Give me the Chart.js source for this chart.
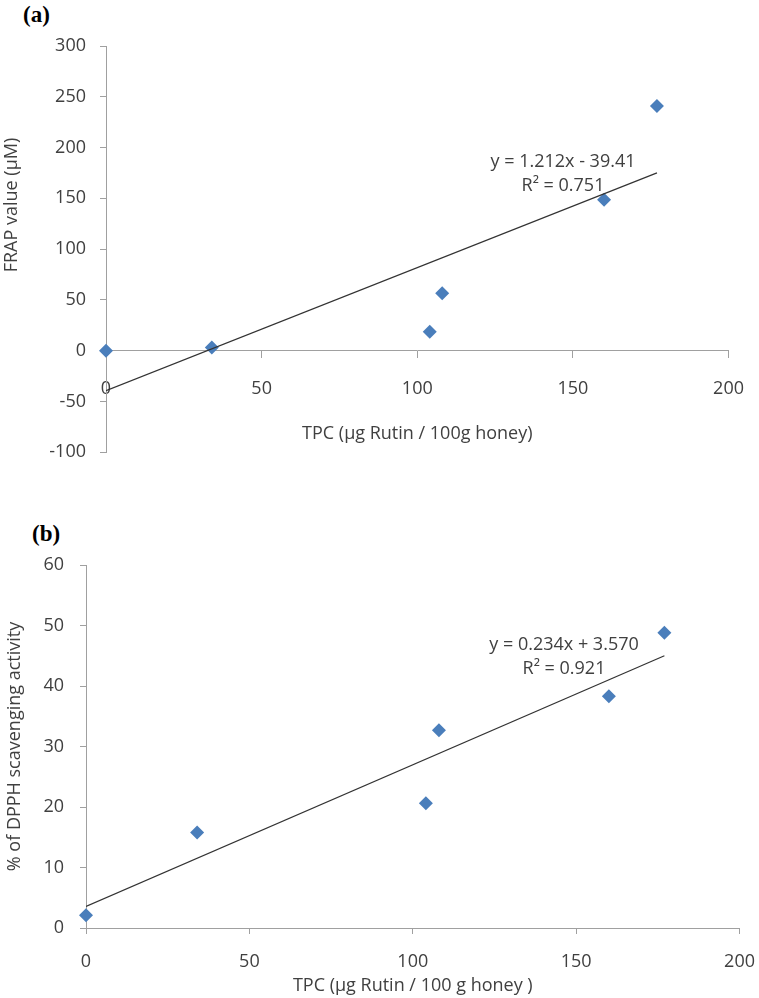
<!DOCTYPE html>
<html>
<head>
<meta charset="utf-8">
<script src="https://cdn.jsdelivr.net/npm/chart.js@4/dist/chart.umd.min.js"></script>
<style>
  html, body { margin: 0; background: #fff; overflow: hidden; }
  #page { position: relative; width: 759px; height: 998px; background: #fff; overflow: hidden; }
  .box { position: absolute; left: 0; }
  .panel { position: absolute; font: bold 23px "Liberation Serif", serif; color: #000; line-height: 23px; }
</style>
</head>
<body>
<div id="page">
  <div class="panel" style="left:23px; top:3px;">(a)</div>
  <div class="panel" style="left:32px; top:522px;">(b)</div>
  <!-- boxes are a bit wider than the page: chart.js adds tick padding on the right -->
  <div class="box" style="top:0; width:764px; height:477px;"><canvas id="chartA"></canvas></div>
  <div class="box" style="top:480px; width:772px; height:518px;"><canvas id="chartB"></canvas></div>
</div>
<script>
  // TPC values (µg Rutin / 100 g honey), same samples in both panels
  const tpc = [0, 34, 104, 108, 160, 177];
  // panel (a) FRAP value (µM)
  const frap = [0, 3, 18.5, 56.5, 148.5, 241];
  // panel (b) % DPPH scavenging
  const dpph = [2.1, 15.8, 20.6, 32.7, 38.3, 48.8];

  // trendline coefficients [slope, intercept] and their labels
  const fitA = [1.212, -39.41];
  const fitB = [0.234, 3.570];
  const eqA = ['y = 1.212x - 39.41', 'R\u00B2 = 0.751'];
  const eqB = ['y = 0.234x + 3.570', 'R\u00B2 = 0.921'];

  // axis ranges / ticks [min, max, step]
  const xTicks = [0, 200, 50];
  const yTicksA = [-100, 300, 50];
  const yTicksB = [0, 60, 10];

  Chart.defaults.font.family = "'Open Sans', sans-serif";
  Chart.defaults.font.size = 18;
  Chart.defaults.color = '#404040';

  const blue = '#4a7ebb';
  const axisGrey = '#a0a0a0';

  function points(xs, ys) {
    return xs.map((x, i) => ({ x: x, y: ys[i] }));
  }

  function trend(fit, xs) {
    const x1 = Math.max.apply(null, xs);
    return [{ x: 0, y: fit[1] }, { x: x1, y: fit[0] * x1 + fit[1] }];
  }

  // equation text like the excel trendline label, plus a free placed y title
  const extraText = {
    id: 'extraText',
    afterDraw(chart, args, opts) {
      const ctx = chart.ctx;
      ctx.save();
      ctx.font = "18px 'Open Sans', sans-serif";
      ctx.fillStyle = '#404040';
      ctx.textAlign = 'center';
      ctx.textBaseline = 'middle';
      opts.lines.forEach((t, i) => {
        ctx.fillText(t, opts.x, opts.y + i * 24);
      });
      if (opts.yTitle) {
        ctx.translate(opts.yTitle.x, opts.yTitle.y);
        ctx.rotate(-Math.PI / 2);
        ctx.fillText(opts.yTitle.text, 0, 0);
      }
      ctx.restore();
    }
  };

  function makeChart(id, ys, fit, eq, yTicks, cfg) {
    const ctx = document.getElementById(id).getContext('2d');
    return new Chart(ctx, {
      type: 'scatter',
      data: {
        datasets: [
          {
            type: 'line',
            data: trend(fit, tpc),
            borderColor: '#333333',
            borderWidth: 1.2,
            pointRadius: 0,
            fill: false,
            order: 0
          },
          {
            data: points(tpc, ys),
            pointStyle: 'rectRot',
            pointRadius: 7,
            pointBackgroundColor: blue,
            pointBorderColor: blue,
            pointBorderWidth: 0,
            clip: false,
            order: 1
          }
        ]
      },
      options: {
        responsive: true,
        maintainAspectRatio: false,
        animation: false,
        layout: { padding: cfg.padding },
        plugins: {
          legend: { display: false },
          tooltip: { enabled: false },
          extraText: { lines: eq, x: cfg.eqX, y: cfg.eqY, yTitle: cfg.freeYTitle }
        },
        scales: {
          x: {
            type: 'linear',
            position: cfg.xPos,
            min: xTicks[0],
            max: xTicks[1],
            ticks: { stepSize: xTicks[2], padding: cfg.xTickPad },
            grid: { drawOnChartArea: false, drawTicks: true, tickLength: cfg.xTickLen, color: axisGrey },
            border: { display: true, color: axisGrey, width: 1 },
            title: {
              display: true,
              text: cfg.xTitle,
              font: { size: 18 },
              padding: cfg.xTitlePad
            },
            afterFit: cfg.xFit
          },
          y: {
            type: 'linear',
            position: 'left',
            min: yTicks[0],
            max: yTicks[1],
            ticks: { stepSize: yTicks[2], padding: cfg.yTickPad },
            grid: { drawOnChartArea: false, drawTicks: true, tickLength: 6, color: axisGrey },
            border: { display: true, color: axisGrey, width: 1 },
            title: {
              display: !!cfg.yTitle,
              text: cfg.yTitle || '',
              font: { size: 18 },
              padding: cfg.yTitlePad
            },
            afterFit: function(scale) { scale.width = cfg.yWidth; }
          }
        }
      },
      plugins: [extraText]
    });
  }

  makeChart('chartA', frap, fitA, eqA, yTicksA, {
    padding: { top: 46, left: 0, right: 20, bottom: 10 },
    xPos: { y: 0 },
    xTickPad: 20,
    xTickLen: 7,
    xTitle: 'TPC (\u00B5g Rutin / 100g honey)',
    xTitlePad: { top: 4, bottom: 0 },
    xFit: null,
    // title sits above the middle of the axis in the original
    freeYTitle: { text: 'FRAP value (\u00B5M)', x: 12, y: 205 },
    yTitlePad: { top: 1, bottom: 0 },
    yTickPad: 14,
    yWidth: 106,
    eqX: 563,
    eqY: 162
  });

  makeChart('chartB', dpph, fitB, eqB, yTicksB, {
    padding: { top: 85, left: 0, right: 20, bottom: 0 },
    xPos: 'bottom',
    xTickPad: 17,
    xTickLen: 6,
    xTitle: 'TPC (\u00B5g Rutin / 100 g honey )',
    xTitlePad: { top: 0, bottom: 1 },
    xFit: function(scale) { scale.height = 70; },
    yTitle: '% of DPPH scavenging activity',
    yTitlePad: { top: 4, bottom: 0 },
    yTickPad: 16,
    yWidth: 86,
    eqX: 564,
    eqY: 165
  });
</script>
</body>
</html>
